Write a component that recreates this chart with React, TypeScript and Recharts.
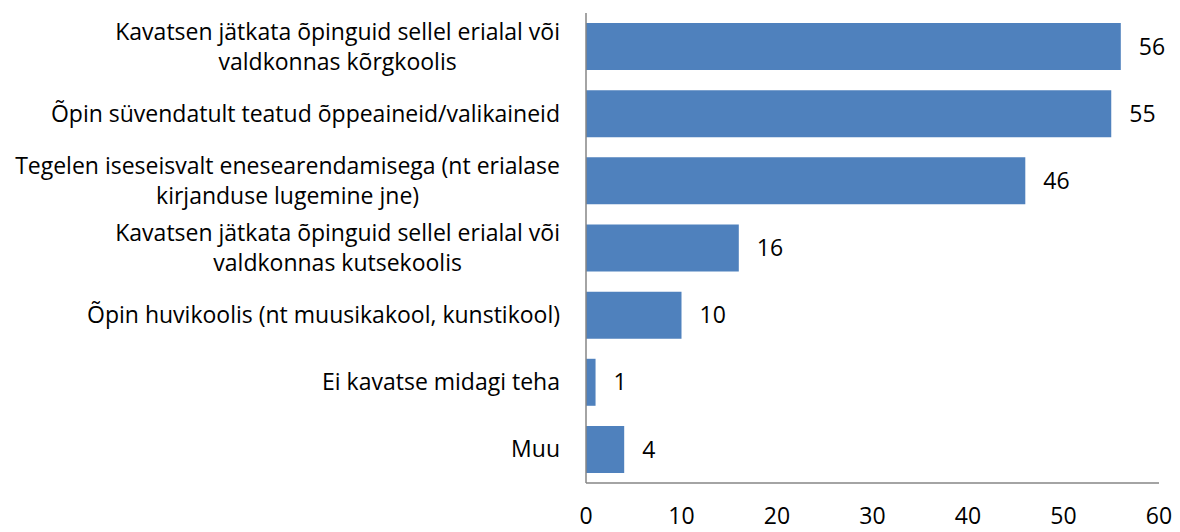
import { BarChart, Bar, XAxis, YAxis, LabelList } from "recharts";

const categories = [
  "Kavatsen jätkata õpinguid sellel erialal või\nvaldkonnas kõrgkoolis",
  "Õpin süvendatult teatud õppeaineid/valikaineid",
  "Tegelen iseseisvalt enesearendamisega (nt erialase\nkirjanduse lugemine jne)",
  "Kavatsen jätkata õpinguid sellel erialal või\nvaldkonnas kutsekoolis",
  "Õpin huvikoolis (nt muusikakool, kunstikool)",
  "Ei kavatse midagi teha",
  "Muu",
];
const values = [56, 55, 46, 16, 10, 1, 4];
const xTicks = [0, 10, 20, 30, 40, 50, 60];

const FONT = "'Open Sans', sans-serif";
const FONT_SIZE = 23;

const chartData = categories.map((name, i) => ({ name, value: values[i] }));

let ctx: CanvasRenderingContext2D | null = null;
function measure(text: string) {
  if (!ctx) ctx = document.createElement("canvas").getContext("2d");
  if (!ctx) return text.length * 10;
  ctx.font = `${FONT_SIZE}px 'Open Sans'`;
  return ctx.measureText(text).width;
}

// right-aligned block of centred lines, like the original axis labels
function CategoryTick({ x, y, payload }: any) {
  const lines = String(payload.value).split("\n");
  const w = Math.max(...lines.map(measure));
  const cx = x - 18 - w / 2;
  const lh = 30;
  const start = y - ((lines.length - 1) * lh) / 2;
  return (
    <g>
      {lines.map((l, i) => (
        <text
          key={i}
          x={cx}
          y={start + i * lh}
          dy="0.35em"
          textAnchor="middle"
          fontSize={FONT_SIZE}
          fontFamily={FONT}
          fill="#000"
        >
          {l}
        </text>
      ))}
    </g>
  );
}

export default function App() {
  return (
    <div style={{ position: "absolute", left: 0, top: 0, background: "#fff" }}>
      <BarChart
        width={1180}
        height={532}
        data={chartData}
        layout="vertical"
        margin={{ top: 13, right: 21, bottom: 0, left: 0 }}
        barCategoryGap="15%"
      >
        <XAxis
          type="number"
          domain={[0, 60]}
          ticks={xTicks}
          interval={0}
          height={49}
          stroke="#868686"
          strokeWidth={1.5}
          tickLine={false}
          tickMargin={19}
          tick={{ fontSize: FONT_SIZE, fontFamily: FONT, fill: "#000" }}
        />
        <YAxis
          type="category"
          dataKey="name"
          width={586}
          interval={0}
          stroke="#868686"
          strokeWidth={1.5}
          tickLine={false}
          tick={<CategoryTick />}
        />
        <Bar dataKey="value" fill="#4F81BD" isAnimationActive={false}>
          <LabelList
            dataKey="value"
            position="right"
            offset={18}
            fontSize={FONT_SIZE}
            fontFamily={FONT}
            fill="#000"
          />
        </Bar>
      </BarChart>
    </div>
  );
}
